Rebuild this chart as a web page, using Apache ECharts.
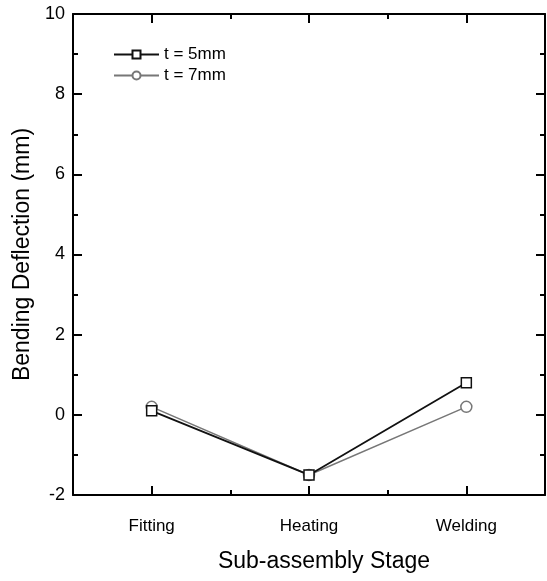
<!DOCTYPE html>
<html>
<head>
<meta charset="utf-8">
<script src="https://cdn.jsdelivr.net/npm/echarts@6/dist/echarts.min.js"></script>
<style>
  html, body { margin: 0; padding: 0; background: #fff; }
  #chart { width: 547px; height: 581px; }
</style>
</head>
<body>
<div id="chart"></div>
<script>
// stages on x axis
const stages = ['Fitting', 'Heating', 'Welding']
// bending deflection (mm)
const t5 = [0.1, -1.5, 0.8]
const t7 = [0.2, -1.5, 0.2]
const yTicks = { min: -2, max: 10, interval: 2 }

const font = 'Liberation Sans, Arial, sans-serif'
const axisLine = { show: true, onZero: false, lineStyle: { color: '#000', width: 2 } }
const majorTick = { show: true, inside: true, length: 9, lineStyle: { color: '#000', width: 2 } }
const minorTickX = { show: true, inside: true, alignWithLabel: false, length: 5, lineStyle: { color: '#000', width: 2 } }

const chart = echarts.init(document.getElementById('chart'))

chart.setOption({
  animation: false,
  textStyle: { fontFamily: font, color: '#000' },
  grid: { left: 73, right: 2, top: 14, bottom: 86 },
  legend: {
    orient: 'vertical',
    left: 108,
    top: 41,
    itemWidth: 45,
    itemHeight: 10,
    itemGap: 4,
    textStyle: { fontSize: 17, color: '#000', fontFamily: font },
    data: ['t = 5mm', 't = 7mm']
  },
  xAxis: [
    {
      type: 'category',
      data: stages,
      position: 'bottom',
      boundaryGap: true,
      axisLine: axisLine,
      axisTick: Object.assign({ alignWithLabel: true }, majorTick),
      axisLabel: { margin: 23, fontSize: 17, color: '#000', fontFamily: font },
      splitLine: { show: false },
      name: 'Sub-assembly Stage',
      nameLocation: 'middle',
      nameGap: 55,
      nameTextStyle: { fontSize: 23, color: '#000', fontFamily: font, padding: [0, 0, 0, 30] }
    },
    {
      // minor ticks between stages
      type: 'category',
      data: stages,
      position: 'bottom',
      axisLine: { show: false, onZero: false },
      axisTick: minorTickX,
      axisLabel: { show: false },
      splitLine: { show: false }
    },
    {
      type: 'category',
      data: stages,
      position: 'top',
      axisLine: axisLine,
      axisTick: Object.assign({ alignWithLabel: true }, majorTick),
      axisLabel: { show: false },
      splitLine: { show: false }
    },
    {
      type: 'category',
      data: stages,
      position: 'top',
      axisLine: { show: false, onZero: false },
      axisTick: minorTickX,
      axisLabel: { show: false },
      splitLine: { show: false }
    }
  ],
  yAxis: [
    {
      type: 'value',
      position: 'left',
      min: yTicks.min,
      max: yTicks.max,
      interval: yTicks.interval,
      axisLine: axisLine,
      axisTick: majorTick,
      minorTick: { show: true, splitNumber: 2, length: 5, lineStyle: { color: '#000', width: 2 } },
      axisLabel: { margin: 8, fontSize: 18, color: '#000', fontFamily: font },
      splitLine: { show: false },
      name: 'Bending Deflection (mm)',
      nameLocation: 'middle',
      nameGap: 36,
      nameTextStyle: { fontSize: 23, color: '#000', fontFamily: font }
    },
    {
      type: 'value',
      position: 'right',
      min: yTicks.min,
      max: yTicks.max,
      interval: yTicks.interval,
      axisLine: axisLine,
      axisTick: majorTick,
      minorTick: { show: true, splitNumber: 2, length: 5, lineStyle: { color: '#000', width: 2 } },
      axisLabel: { show: false },
      splitLine: { show: false }
    }
  ],
  series: [
    {
      name: 't = 5mm',
      type: 'line',
      data: t5,
      symbol: 'rect',
      symbolSize: 10,
      lineStyle: { color: '#111', width: 1.8 },
      itemStyle: { color: '#fff', borderColor: '#111', borderWidth: 1.5 },
      z: 3
    },
    {
      name: 't = 7mm',
      type: 'line',
      data: t7,
      symbol: 'circle',
      symbolSize: 11,
      lineStyle: { color: '#777', width: 1.5 },
      itemStyle: { color: '#fff', borderColor: '#777', borderWidth: 1.5 },
      z: 2
    }
  ]
})
</script>
</body>
</html>
